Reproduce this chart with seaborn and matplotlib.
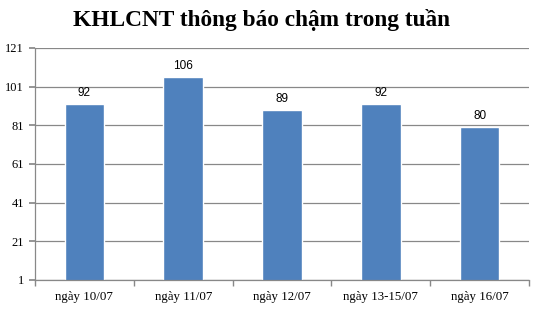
import matplotlib
matplotlib.use("Agg")
import matplotlib.pyplot as plt
import seaborn as sns
import pandas as pd
import numpy as np

categories = ["ngày 10/07", "ngày 11/07", "ngày 12/07", "ngày 13-15/07", "ngày 16/07"]
values = [92, 106, 89, 92, 80]
yticks = [1, 21, 41, 61, 81, 101, 121]
title = "KHLCNT thông báo chậm trong tuần"

sns.set_theme(style="white")
plt.rcParams['font.family'] = ['Liberation Serif', 'DejaVu Serif']
plt.rcParams['text.color'] = 'black'
plt.rcParams['xtick.color'] = 'black'
plt.rcParams['ytick.color'] = 'black'

df = pd.DataFrame({"cat": categories, "val": values})
fig = plt.figure(figsize=(5.39, 3.09), dpi=100)
ax = fig.add_axes([35/539, 1 - 280/309, (529-35)/539, (280-48)/309])

sns.barplot(data=df, x="cat", y="val", color="#4F81BD", width=0.4, ax=ax, saturation=1)

ax.set_ylim(1, 121)
ax.set_xlim(-0.5, 4.5)
ax.set_yticks(yticks)
ax.set_yticklabels([str(t) for t in yticks], fontsize=9)
ax.yaxis.grid(True, color="#888888", linewidth=0.9)
ax.set_axisbelow(True)
for s in ["top", "right"]:
    ax.spines[s].set_visible(False)
for s in ["left", "bottom"]:
    ax.spines[s].set_color("#888888")
    ax.spines[s].set_linewidth(0.9)
ax.set_xlabel("")
ax.set_ylabel("")
ax.set_xticks(range(len(categories)))
ax.set_xticklabels(categories, fontsize=9.3)
ax.tick_params(axis="x", length=0, pad=8)
ax.set_xticks(np.arange(-0.5, len(categories)), minor=True)
ax.tick_params(axis="x", which="minor", length=4, color="#888888", direction="out", bottom=True)
ax.tick_params(axis="y", length=4, color="#888888", labelcolor="black", direction="out", left=True, pad=4)

for i, v in enumerate(values):
    ax.text(i, v + 2.5, str(v), ha="center", va="bottom", fontsize=8.5,
            family=["Liberation Sans", "DejaVu Sans"], color="black")

fig.text(0.485, 1 - 20/309, title, ha="center", va="center", fontsize=16.8,
         fontweight="bold", family=["Liberation Serif", "DejaVu Serif"], color="black")

fig.savefig("out.png", dpi=100)
